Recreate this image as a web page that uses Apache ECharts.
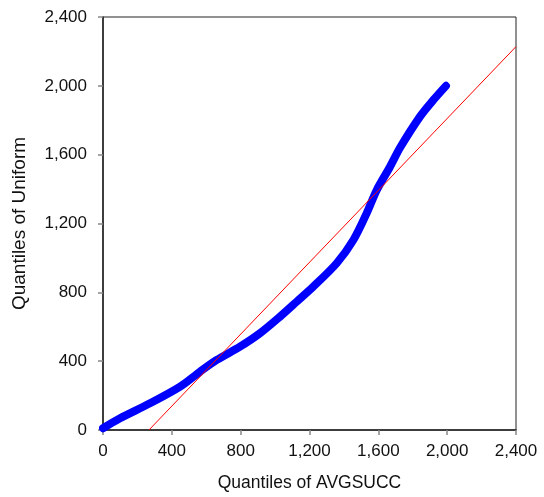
<!DOCTYPE html>
<html>
<head>
<meta charset="utf-8">
<script src="https://cdn.jsdelivr.net/npm/echarts@6/dist/echarts.min.js"></script>
<style>
  html, body { margin: 0; padding: 0; background: #fff; }
  #chart { width: 544px; height: 497px; }
</style>
</head>
<body>
<div id="chart"></div>
<script>
// quantile pairs
var avgsuccQ = [0, 99, 273, 448, 564, 661, 796, 912, 1029, 1126, 1222, 1358, 1455, 1532, 1591, 1668, 1726, 1842, 1920, 1993];
var uniformQ = [10, 68, 155, 252, 339, 407, 484, 562, 659, 746, 833, 969, 1104, 1259, 1395, 1530, 1640, 1821, 1918, 2000];
// reference line ends
var refX = [267, 2400];
var refY = [0, 2228];

var axisMax = 2400;
var tickStep = 400;

function pairs (xs, ys) {
  return xs.map(function (x, i) { return [x, ys[i]] })
}

function fmt (v) {
  return v.toLocaleString('en-US')
}

var textColor = '#111'
var font = 'Liberation Sans, Arial, sans-serif'

var chart = echarts.init(document.getElementById('chart'))
chart.setOption({
  animation: false,
  grid: {
    left: 103, top: 17, right: 28, bottom: 67,
    show: true, borderColor: '#222', borderWidth: 1
  },
  xAxis: {
    type: 'value', min: 0, max: axisMax, interval: tickStep,
    name: 'Quantiles of AVGSUCC', nameLocation: 'middle', nameGap: 44,
    nameTextStyle: { color: textColor, fontSize: 17.5, fontFamily: font },
    axisLine: { show: true, onZero: false, lineStyle: { color: '#222', width: 1.5 } },
    axisTick: { show: true, length: 5, lineStyle: { color: '#888', width: 1.5 } },
    axisLabel: { color: textColor, fontSize: 17, fontFamily: font, margin: 13, formatter: fmt },
    splitLine: { show: false }
  },
  yAxis: {
    type: 'value', min: 0, max: axisMax, interval: tickStep,
    name: 'Quantiles of Uniform', nameLocation: 'middle', nameGap: 74,
    nameTextStyle: { color: textColor, fontSize: 19, fontFamily: font },
    axisLine: { show: true, onZero: false, lineStyle: { color: '#222', width: 1.5 } },
    axisTick: { show: true, length: 5, lineStyle: { color: '#888', width: 1.5 } },
    axisLabel: { color: textColor, fontSize: 17, fontFamily: font, margin: 16, formatter: fmt },
    splitLine: { show: false }
  },
  series: [
    {
      type: 'line',
      data: pairs(avgsuccQ, uniformQ),
      smooth: 0.3,
      showSymbol: false,
      lineStyle: { color: '#0000ff', width: 8, cap: 'round', join: 'round' },
      z: 2
    },
    {
      type: 'line',
      data: pairs(refX, refY),
      showSymbol: false,
      lineStyle: { color: '#ff0000', width: 1 },
      z: 3
    }
  ]
})
</script>
</body>
</html>
